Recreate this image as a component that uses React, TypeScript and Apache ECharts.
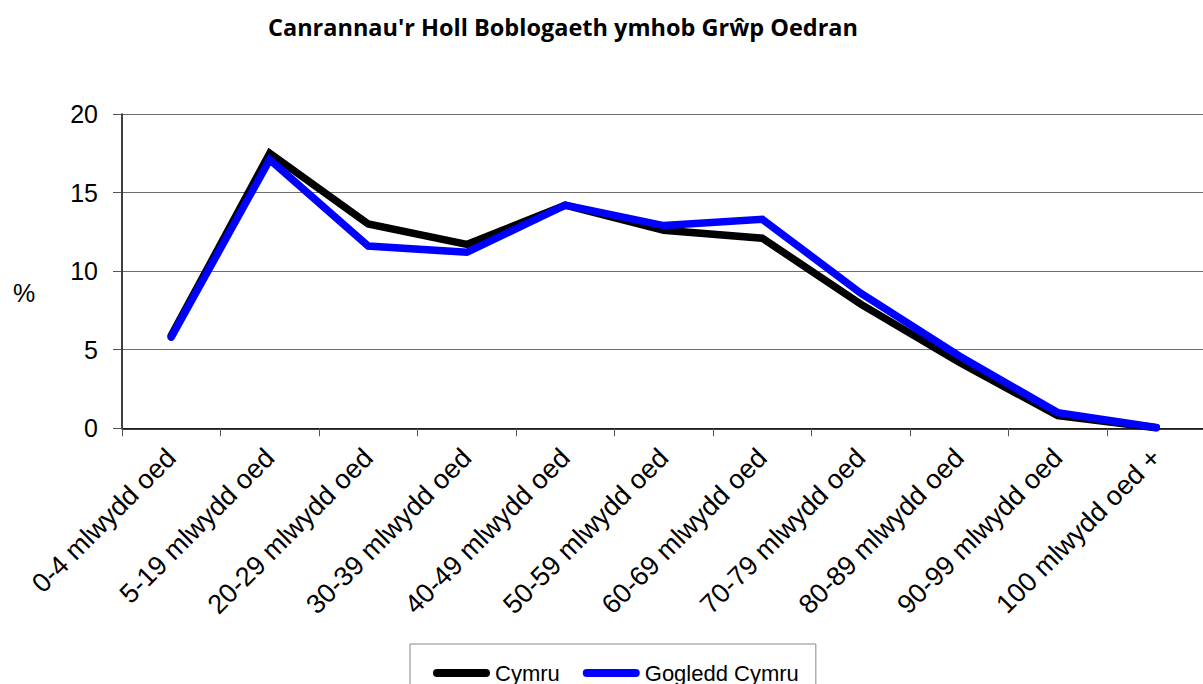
import React, { useEffect, useRef } from "react";
import * as echarts from "echarts";

const titleText = "Canrannau'r Holl Boblogaeth ymhob Grŵp Oedran";
const categories = [
  "0-4 mlwydd oed",
  "5-19 mlwydd oed",
  "20-29 mlwydd oed",
  "30-39 mlwydd oed",
  "40-49 mlwydd oed",
  "50-59 mlwydd oed",
  "60-69 mlwydd oed",
  "70-79 mlwydd oed",
  "80-89 mlwydd oed",
  "90-99 mlwydd oed",
  "100 mlwydd oed +",
];
const cymru = [5.9, 17.5, 13.0, 11.7, 14.2, 12.6, 12.1, 7.9, 4.2, 0.8, 0.03];
const gogleddCymru = [5.8, 17.1, 11.6, 11.2, 14.2, 12.9, 13.3, 8.6, 4.6, 1.0, 0.05];
const seriesNames = ["Cymru", "Gogledd Cymru"];
const yMin = 0;
const yMax = 20;
const yStep = 5;

const FONT = "'Liberation Sans', Arial, sans-serif";

export default function App() {
  const ref = useRef<HTMLDivElement>(null);
  useEffect(() => {
    if (!ref.current) return;
    const chart = echarts.init(ref.current, undefined, { renderer: "svg" });
    const pill = "path://M4,0 H53 A4,4 0 0 1 53,8 H4 A4,4 0 0 1 4,0 Z";
    chart.setOption({
      animation: false,
      backgroundColor: "#ffffff",
      textStyle: { fontFamily: FONT },
      grid: {
        left: 122,
        top: 114,
        width: 1083.5,
        height: 314.3,
        containLabel: false,
        outerBoundsMode: "none",
      },
      graphic: [
        {
          type: "text",
          x: 563,
          y: 27,
          style: {
            text: titleText,
            fontFamily: "'Open Sans', sans-serif",
            fontWeight: "bold",
            fontSize: 23.5,
            fill: "#000",
            align: "center",
            verticalAlign: "middle",
          },
        },
        {
          type: "text",
          x: 24,
          y: 293,
          style: {
            text: "%",
            fontFamily: FONT,
            fontSize: 25,
            fill: "#000",
            align: "center",
            verticalAlign: "middle",
          },
        },
      ],
      legend: {
        left: 410,
        top: 644,
        orient: "horizontal",
        itemGap: 23,
        itemWidth: 57,
        itemHeight: 8,
        padding: [18, 17, 30, 23],
        borderColor: "#888",
        borderWidth: 1,
        textStyle: { fontSize: 22, color: "#000", fontFamily: FONT },
        data: [
          { name: seriesNames[0], icon: pill, itemStyle: { color: "#000000" } },
          { name: seriesNames[1], icon: pill, itemStyle: { color: "#0000ff" } },
        ],
      },
      xAxis: {
        type: "category",
        data: categories,
        boundaryGap: true,
        axisLine: { show: true, lineStyle: { color: "#000", width: 1.5 } },
        axisTick: { show: true, length: 8, lineStyle: { color: "#555" } },
        splitLine: { show: false },
        axisLabel: {
          interval: 0,
          rotate: 45,
          margin: 25,
          align: "right",
          verticalAlign: "middle",
          fontSize: 27,
          color: "#000",
          fontFamily: FONT,
        },
      },
      yAxis: {
        type: "value",
        min: yMin,
        max: yMax,
        interval: yStep,
        axisLine: { show: true, lineStyle: { color: "#000", width: 1.5 } },
        axisTick: { show: true, length: 9, lineStyle: { color: "#555" } },
        splitLine: { show: true, lineStyle: { color: "#6e6e6e", width: 1 } },
        axisLabel: { margin: 24, fontSize: 25, color: "#000", fontFamily: FONT },
      },
      series: [
        {
          name: seriesNames[0],
          type: "line",
          data: cymru,
          symbol: "none",
          lineStyle: { color: "#000000", width: 7.5, cap: "round", join: "miter" },
          itemStyle: { color: "#000000" },
          z: 2,
        },
        {
          name: seriesNames[1],
          type: "line",
          data: gogleddCymru,
          symbol: "none",
          lineStyle: { color: "#0000ff", width: 7.5, cap: "round", join: "miter" },
          itemStyle: { color: "#0000ff" },
          z: 3,
        },
      ],
    });
    return () => chart.dispose();
  }, []);
  return (
    <div
      ref={ref}
      style={{ position: "absolute", left: 0, top: 0, width: 1203, height: 684 }}
    />
  );
}
